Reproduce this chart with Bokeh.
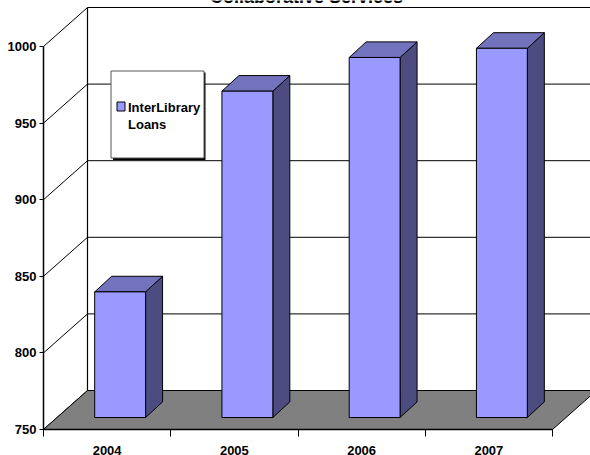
from bokeh.core.properties import value
from bokeh.embed import file_html
from bokeh.models import FixedTicker, LinearAxis, Range1d
from bokeh.plotting import figure
from bokeh.resources import INLINE

# Chart data
title_text = "Collaborative Services"
series_name = ["InterLibrary", "Loans"]
years = ["2004", "2005", "2006", "2007"]
loans = [832, 963, 985, 991]
y_ticks = [750, 800, 850, 900, 950, 1000]

# Pixel geometry of the plotting box
W, H = 590, 455
X0_PX, STEP_PX = 43.0, 127.25
Y750_PX, PX_PER_UNIT = 429.0, 1.532


def px_x(px):
    return (px - X0_PX) / STEP_PX


def px_y(py):
    return 750 + (Y750_PX - py) / PX_PER_UNIT


# Depth of the box (back wall) and of each column, in data units
BOX_DX, BOX_DY = 44 / STEP_PX, 39 / PX_PER_UNIT
BAR_DX, BAR_DY = 17 / STEP_PX, 15.6 / PX_PER_UNIT
INSET_DX, INSET_DY = 13 / STEP_PX, 12 / PX_PER_UNIT
BAR_MARGIN, BAR_WIDTH = 0.3, 0.4

FONT = value("Liberation Sans")
FRONT, TOP, SIDE = "#9999FF", "#7373BD", "#4C4C80"

p = figure(
    width=W, height=H, output_backend="svg", toolbar_location=None,
    x_range=Range1d(px_x(0), px_x(W)), y_range=Range1d(px_y(H), px_y(0)),
    x_axis_type=None, y_axis_type=None, min_border=0,
    outline_line_color=None, background_fill_color="white",
)
p.grid.visible = False

# Gridlines: along the left wall and across the back wall
n_cat = len(years)
for v in y_ticks:
    p.line([0, BOX_DX, n_cat + BOX_DX], [v, v + BOX_DY, v + BOX_DY],
           line_color="black", line_width=1)
p.line([BOX_DX, BOX_DX], [750 + BOX_DY, 1000 + BOX_DY], line_color="black", line_width=1.2)

# Floor
p.patch([0, BOX_DX, n_cat + BOX_DX, n_cat], [750, 750 + BOX_DY, 750 + BOX_DY, 750],
        fill_color="#808080", line_color="black", line_width=1)

# Columns: front face, top and right side
for i, v in enumerate(loans):
    x1 = i + BAR_MARGIN + INSET_DX
    x2 = x1 + BAR_WIDTH
    y1 = 750 + INSET_DY
    y2 = y1 + (v - 750)
    p.patch([x2, x2 + BAR_DX, x2 + BAR_DX, x2],
            [y1, y1 + BAR_DY, y2 + BAR_DY, y2],
            fill_color=SIDE, line_color="black", line_width=1)
    p.patch([x1, x1 + BAR_DX, x2 + BAR_DX, x2],
            [y2, y2 + BAR_DY, y2 + BAR_DY, y2],
            fill_color=TOP, line_color="black", line_width=1)
    p.patch([x1, x2, x2, x1], [y1, y1, y2, y2],
            fill_color=FRONT, line_color="black", line_width=1)

# Legend panel with drop shadow
p.quad(left=px_x(112.5), right=px_x(205), top=px_y(72), bottom=px_y(159.5),
       fill_color="black", line_color=None)
p.quad(left=px_x(110.5), right=px_x(203.5), top=px_y(70.5), bottom=px_y(157.5),
       fill_color="white", line_color="#555555", line_width=1)
p.quad(left=px_x(116.5), right=px_x(124.5), top=px_y(101.5), bottom=px_y(110.5),
       fill_color=FRONT, line_color="black", line_width=1)
p.text(x=[px_x(127.5)] * 2, y=[px_y(106.5), px_y(123.5)], text=series_name,
       text_font=FONT, text_font_style="bold", text_font_size="13px",
       text_color="black", text_baseline="alphabetic", text_align="left")

# Title, cut by the top edge of the page
p.text(x=[px_x(306)], y=[px_y(-4)], text=[title_text],
       text_font=FONT, text_font_style="bold", text_font_size="18px",
       text_color="black", text_baseline="alphabetic", text_align="center")

# Value axis on the front-left edge
y_axis = LinearAxis(fixed_location=0, bounds=(750, 1000))
y_axis.ticker = FixedTicker(ticks=y_ticks)
y_axis.major_tick_in = 0
y_axis.major_tick_out = 4
y_axis.minor_tick_line_color = None
y_axis.axis_line_width = 1.5
y_axis.major_label_standoff = 3
y_axis.major_label_text_font = "Liberation Sans"
y_axis.major_label_text_font_style = "bold"
y_axis.major_label_text_font_size = "13px"
y_axis.major_label_text_color = "black"
p.add_layout(y_axis, "left")

# Category axis: year labels centred in their slots, tick marks at slot boundaries
x_axis = LinearAxis(fixed_location=750, bounds=(0, n_cat))
x_axis.ticker = FixedTicker(ticks=[i + 0.5 for i in range(n_cat)],
                            minor_ticks=list(range(n_cat + 1)))
x_axis.major_label_overrides = {i + 0.5: y for i, y in enumerate(years)}
x_axis.major_tick_line_color = None
x_axis.major_tick_in = 0
x_axis.major_tick_out = 0
x_axis.minor_tick_in = 0
x_axis.minor_tick_out = 7
x_axis.minor_tick_line_color = "black"
x_axis.axis_line_width = 1.5
x_axis.major_label_standoff = 9
x_axis.major_label_text_font = "Liberation Sans"
x_axis.major_label_text_font_style = "bold"
x_axis.major_label_text_font_size = "13px"
x_axis.major_label_text_color = "black"
p.add_layout(x_axis, "below")

open("out.html", "w").write(file_html(p, INLINE))
